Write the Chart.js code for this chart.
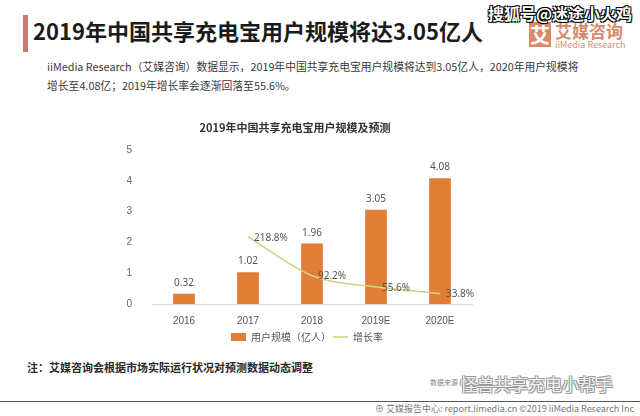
<!DOCTYPE html>
<html><head><meta charset="utf-8">
<script src="https://cdn.jsdelivr.net/npm/chart.js@4/dist/chart.umd.min.js"></script>
<style>
html,body{margin:0;padding:0;background:#fff;}
body{width:640px;height:416px;position:relative;overflow:hidden;font-family:"Noto Sans CJK SC","Noto Sans",sans-serif;}
#c{position:absolute;left:0;top:0;}
.abs{position:absolute;white-space:nowrap;}
</style></head><body>
<div class="abs" style="left:23px;top:15px;width:5px;height:37px;background:#c87a6c;"></div>
<div class="abs" style="left:33px;top:13px;font-size:22px;font-weight:bold;color:#1b1b1b;line-height:34px;">2019年中国共享充电宝用户规模将达3.05亿人</div>
<div class="abs" style="left:47px;top:57px;font-size:10.8px;color:#3a3a3a;line-height:19px;">iiMedia Research（艾媒咨询）数据显示，2019年中国共享充电宝用户规模将达到3.05亿人，2020年用户规模将<br>增长至4.08亿；2019年增长率会逐渐回落至55.6%。</div>
<div class="abs" style="left:529px;top:22px;width:22px;height:25px;background:#d98a6c;color:#fff;font-size:20px;font-weight:bold;line-height:25px;text-align:center;">艾</div>
<div class="abs" style="left:555px;top:20px;font-size:17px;font-weight:bold;color:#d98a6c;line-height:22px;">艾媒咨询</div>
<div class="abs" style="left:555px;top:39px;font-size:9px;color:#c9907a;line-height:11px;">iiMedia Research</div>
<div class="abs" style="left:488px;top:3px;font-size:16px;font-weight:bold;color:#fff;line-height:20px;text-shadow:1px 1px 0 #000,-1px -1px 0 #000,1px -1px 0 #000,-1px 1px 0 #000;">搜狐号@迷途小火鸡</div>
<div class="abs" style="left:27px;top:359px;font-size:11px;font-weight:bold;color:#2a2a2a;line-height:16px;">注：艾媒咨询会根据市场实际运行状况对预测数据动态调整</div>
<div class="abs" style="left:430px;top:377px;font-size:7px;color:#888;line-height:10px;">数据来源</div>
<div class="abs" style="left:460px;top:373px;font-size:17px;color:#f2f2f2;line-height:22px;text-shadow:1px 1px 0 #999,-1px -1px 0 #999,1px -1px 0 #999,-1px 1px 0 #999;">怪兽共享充电小帮手</div>
<div class="abs" style="left:0;top:401px;width:640px;height:1px;background:#555;"></div>
<div class="abs" style="right:6px;top:403px;font-size:9px;color:#777;line-height:12px;">⊕ 艾媒报告中心: report.iimedia.cn  ©2019  iiMedia Research Inc</div>
<canvas id="c" width="640" height="416"></canvas>
<script>
const categories = ["2016","2017","2018","2019E","2020E"];
const users = [0.32, 1.02, 1.96, 3.05, 4.08];
const growth = [null, 218.8, 92.2, 55.6, 33.8];
const yTicks = [0,1,2,3,4,5];

const labelPlugin = {
  id:'labels',
  afterLayout(chart){
    if(chart.legend){ chart.legend.left += 12; chart.legend.right += 12; }
  },
  afterDatasetsDraw(chart){
    const ctx = chart.ctx;
    ctx.save();
    ctx.font = '10px "Noto Sans","Noto Sans CJK SC",sans-serif';
    ctx.fillStyle = '#555';
    const m0 = chart.getDatasetMeta(0);
    m0.data.forEach((el,i)=>{
      ctx.textAlign='center'; ctx.textBaseline='bottom';
      ctx.fillText(users[i].toFixed(2), el.x, el.y-6);
    });
    const m1 = chart.getDatasetMeta(1);
    m1.data.forEach((el,i)=>{
      if(growth[i]==null) return;
      ctx.textAlign='left'; ctx.textBaseline='middle';
      ctx.fillText(growth[i].toFixed(1)+'%', el.x+6, el.y+1);
    });
    ctx.restore();
  }
};

new Chart(document.getElementById('c'), {
  data:{
    labels: categories,
    datasets:[
      {type:'bar', label:'用户规模（亿人）', data: users, backgroundColor:'#e27d36', borderWidth:0, barThickness:21, yAxisID:'y', order:2, pointStyle:'rect'},
      {type:'line', label:'增长率', data: growth, borderColor:'#d3d283', backgroundColor:'#d3d283', borderWidth:1.6, pointRadius:0, pointStyle:'line', cubicInterpolationMode:'monotone', yAxisID:'y1', order:1}
    ]
  },
  options:{
    responsive:false, animation:false,
    layout:{padding:{left:118,right:168,top:121,bottom:64}},
    plugins:{
      title:{display:true, text:'2019年中国共享充电宝用户规模及预测', color:'#333', font:{size:11, weight:'bold', family:'"Noto Sans CJK SC",sans-serif'}, padding:{top:0,bottom:16}},
      legend:{position:'bottom', labels:{color:'#555', font:{size:10, family:'"Noto Sans CJK SC",sans-serif'}, usePointStyle:true, pointStyleWidth:15, boxHeight:8, padding:2,
        sort:(a,b)=>a.datasetIndex-b.datasetIndex}},
      tooltip:{enabled:false}
    },
    scales:{
      x:{grid:{display:false}, border:{color:'#d9d9d9'}, ticks:{color:'#555', font:{size:10}}},
      y:{min:0,max:5, afterBuildTicks(s){s.ticks = yTicks.map(v=>({value:v}));}, grid:{display:false}, border:{display:false}, ticks:{color:'#666', font:{size:10}, padding:12},
         afterFit(s){s.width=34;}},
      y1:{min:0,max:500, display:false}
    }
  },
  plugins:[labelPlugin]
});
</script>
</body></html>
